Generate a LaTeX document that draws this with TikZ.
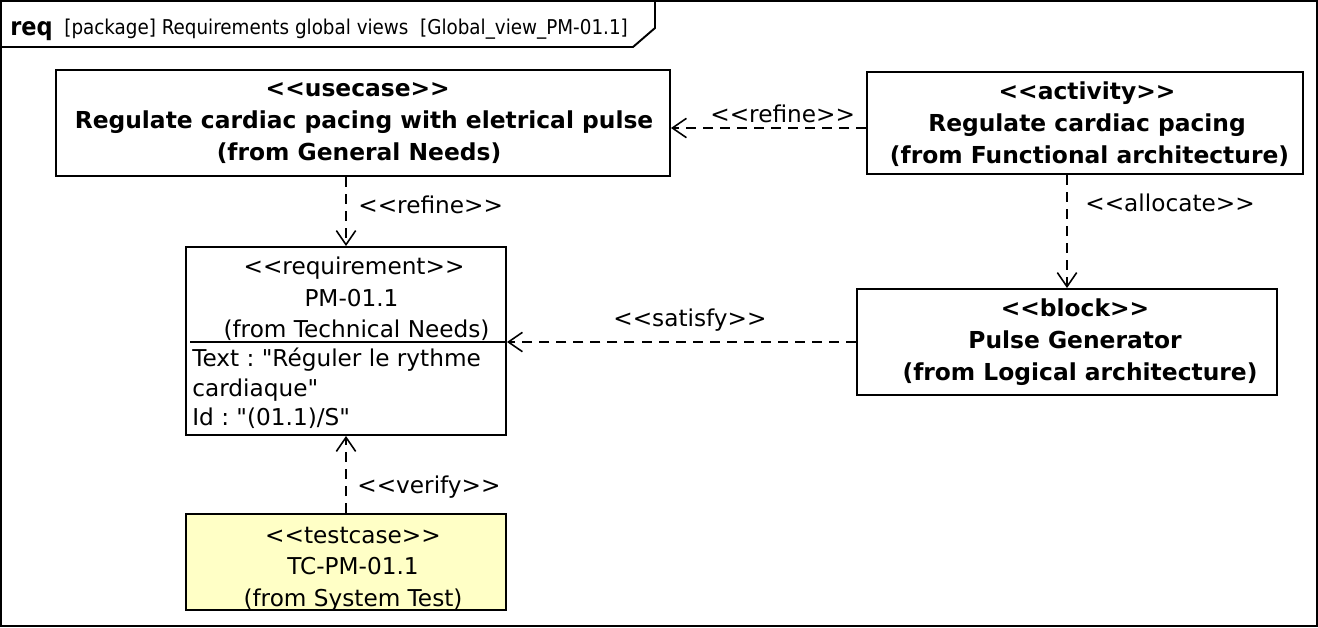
\documentclass[tikz,border=0pt]{standalone}
\usepackage{fontspec}
\newfontfamily\dv{DejaVu Sans}
\newfontfamily\dvc{DejaVu Sans Condensed}
\usetikzlibrary{arrows.meta}
\definecolor{tcfill}{RGB}{255,255,198}
\frenchspacing
\begin{document}
\begin{tikzpicture}[x=0.02cm,y=-0.02cm,
  txt/.style={font=\dv\fontsize{13.2}{18}\selectfont},
  btxt/.style={font=\dv\bfseries\fontsize{13.3}{18.2}\selectfont},
  box/.style={draw, line width=1.1pt, inner sep=0pt, align=center, txt},
  lbl/.style={txt, inner sep=0pt, anchor=west},
  dep/.style={draw, line width=0.9pt, dash pattern=on 5.7pt off 4pt,
    -{Straight Barb[length=8pt, width=11pt, line width=0.9pt]}}]
\useasboundingbox (0,0) rectangle (1318,627);
% frame
\draw[line width=1.1pt] (1,1) rectangle (1317,626);
\draw[line width=1.1pt] (1,47) -- (633,47) -- (655,28) -- (655,1);
\node[inner sep=0pt, anchor=base west, font=\dvc\bfseries\fontsize{14.2}{17}\selectfont] (reqk) at (10,35) {req};
\node[inner sep=0pt, anchor=base west, font=\dvc\fontsize{11.6}{14}\selectfont] (title) at (64,34) {[package] Requirements global views\ \ [Global\_view\_PM-01.1]};
% boxes
\node[box, minimum width={614*0.02cm}, minimum height={106*0.02cm}] (uc) at (363,123) {};
\node[btxt, align=center, inner sep=0pt] (uct) at (364,123) {\hspace*{-0.25cm}<<usecase>>\\Regulate cardiac pacing with eletrical pulse\\\hspace*{-0.2cm}(from General Needs)};
\node[box, minimum width={436*0.02cm}, minimum height={102*0.02cm}] (ac) at (1085,123) {};
\node[btxt, align=center, inner sep=0pt] (act) at (1087,124) {<<activity>>\\Regulate cardiac pacing\\\hspace*{0.1cm}(from Functional architecture)};
\node[box, minimum width={320*0.02cm}, minimum height={188*0.02cm}] (req) at (346,341) {};
\node[txt, align=center, inner sep=0pt] (reqt) at (354,299) {<<requirement>>\\\hspace*{-0.1cm}PM-01.1\\\hspace*{0.1cm}(from Technical Needs)};
\draw[line width=0.7pt] (190,342) -- (req.east |- 0,342);
\node[txt, align=left, inner sep=0pt, anchor=north west, font=\dv\fontsize{13.2}{16.6}\selectfont] (reqa) at (192,348) {Text : "R\char"E9 guler le rythme\\cardiaque"\\Id : "(01.1)/S"};
\node[box, minimum width={420*0.02cm}, minimum height={106*0.02cm}] (blk) at (1067,342) {};
\node[btxt, align=center, inner sep=0pt] (blkt) at (1075,342) {<<block>>\\Pulse Generator\\\hspace*{0.2cm}(from Logical architecture)};
\node[box, fill=tcfill, minimum width={320*0.02cm}, minimum height={96*0.02cm}] (tc) at (346,562) {};
\node[txt, align=center, inner sep=0pt] (tct) at (353,569) {<<testcase>>\\TC-PM-01.1\\(from System Test)};
% connectors
\draw[dep] (uc.south -| req.north) -- (req.north);
\draw[dep] ([yshift=-0.1cm]ac.west) -- ([yshift=-0.1cm]ac.west -| uc.east);
\draw[dep] (ac.south -| blk.north) -- (blk.north);
\draw[dep] (blk.west) -- (blk.west -| req.east);
\draw[dep] (tc.north) -- (req.south);
% labels
\node[lbl] (l1) at (358,205) {<<refine>>};
\node[lbl] (l2) at (710,114) {<<refine>>};
\node[lbl] (l3) at (1085,203) {<<allocate>>};
\node[lbl] (l4) at (613,320) {<<satisfy>>};
\node[lbl] (l5) at (357,487) {<<verify>>};
\end{tikzpicture}
\end{document}
